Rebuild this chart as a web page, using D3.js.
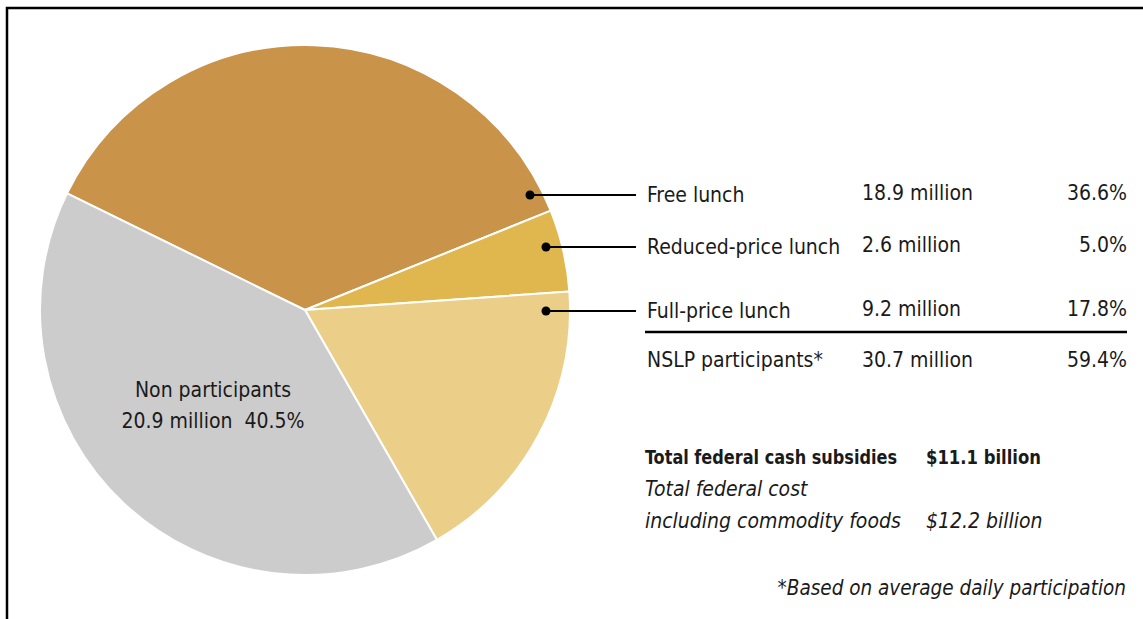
<!DOCTYPE html>
<html>
<head>
<meta charset="utf-8">
<script src="https://cdn.jsdelivr.net/npm/d3@7"></script>
<style>
  body { margin: 0; background: #fff; }
  text { font-family: "DejaVu Sans Condensed", "Liberation Sans Narrow", sans-serif; fill: #1a1a1a; }
</style>
</head>
<body>
<svg id="svg" width="1143" height="619"></svg>
<script>
// dados
const categories = ["Free lunch", "Reduced-price lunch", "Full-price lunch", "Non participants"];
const millions = [18.9, 2.6, 9.2, 20.9];
const shares = [36.6, 5.0, 17.8, 40.5];
const sliceColors = ["#c9944a", "#e0b64e", "#ebcf88", "#cccccc"];
const totalLabel = ["NSLP participants*", "30.7 million", "59.4%"];

const svg = d3.select("#svg");
const width = +svg.attr("width");
const height = +svg.attr("height");

const cx = 305, cy = 310, radius = 265;
const startAngle = -63.9 * Math.PI / 180;

// moldura
svg.append("path")
  .attr("d", `M7,${height}V8H${width}`)
  .attr("fill", "none")
  .attr("stroke", "#000")
  .attr("stroke-width", 2.5);

const pie = d3.pie()
  .sort(null)
  .value(d => d)
  .startAngle(startAngle)
  .endAngle(startAngle + 2 * Math.PI);

const arcs = pie(shares);
const arc = d3.arc().innerRadius(0).outerRadius(radius);

const g = svg.append("g").attr("transform", `translate(${cx},${cy})`);

g.selectAll("path.slice")
  .data(arcs)
  .enter()
  .append("path")
  .attr("class", "slice")
  .attr("d", arc)
  .attr("fill", (d, i) => sliceColors[i])
  .attr("stroke", "#fff")
  .attr("stroke-width", 2);

// rótulo dos não participantes
const nonLabel = g.append("text")
  .attr("x", 213 - cx)
  .attr("y", 397 - cy)
  .attr("text-anchor", "middle")
  .style("font-size", "21px");
nonLabel.append("tspan").attr("x", 213 - cx).text(categories[3]);
nonLabel.append("tspan").attr("x", 213 - cx).attr("dy", 31)
  .text(millions[3] + " million\u00a0\u00a0" + shares[3].toFixed(1) + "%");

// linhas de chamada
const rowY = [195, 247, 311];
const dotX = [530, 546, 546];
const textX = 647, millX = 862, pctX = 1127;

arcs.slice(0, 3).forEach((d, i) => {
  const y = rowY[i] - cy;
  const dx = dotX[i] - cx;
  g.append("circle").attr("cx", dx).attr("cy", y).attr("r", 4.5).attr("fill", "#000");
  g.append("line")
    .attr("x1", dx).attr("y1", y)
    .attr("x2", 636 - cx).attr("y2", y)
    .attr("stroke", "#000").attr("stroke-width", 2);
});

const rows = svg.selectAll("g.row")
  .data(arcs.slice(0, 3))
  .enter()
  .append("g")
  .attr("class", "row")
  .attr("transform", (d, i) => `translate(0,${rowY[i] + 7})`)
  .style("font-size", "21px");

rows.append("text").attr("x", textX).text((d, i) => categories[i]);
rows.append("text").attr("x", millX).attr("y", -2).text((d, i) => millions[i] + " million");
rows.append("text").attr("x", pctX).attr("y", -2).attr("text-anchor", "end").text((d, i) => shares[i].toFixed(1) + "%");

svg.append("line")
  .attr("x1", 645).attr("x2", pctX)
  .attr("y1", 332).attr("y2", 332)
  .attr("stroke", "#000").attr("stroke-width", 2.5);

const tot = svg.append("g").style("font-size", "21px");
tot.append("text").attr("x", textX).attr("y", 367).text(totalLabel[0]);
tot.append("text").attr("x", millX).attr("y", 367).text(totalLabel[1]);
tot.append("text").attr("x", pctX).attr("y", 367).attr("text-anchor", "end").text(totalLabel[2]);

// custos
const cost = svg.append("g").style("font-size", "21px");
cost.append("text").attr("x", 645).attr("y", 464)
  .style("font-weight", "bold").style("font-size", "20px")
  .attr("textLength", 252).attr("lengthAdjust", "spacingAndGlyphs")
  .text("Total federal cash subsidies");
cost.append("text").attr("x", 926).attr("y", 464)
  .style("font-weight", "bold").style("font-size", "20px")
  .attr("textLength", 115).attr("lengthAdjust", "spacingAndGlyphs")
  .text("$11.1 billion");
cost.append("text").attr("x", 645).attr("y", 496).style("font-style", "italic").text("Total federal cost");
cost.append("text").attr("x", 645).attr("y", 528).style("font-style", "italic").text("including commodity foods");
cost.append("text").attr("x", 926).attr("y", 528).style("font-style", "italic").text("$12.2 billion");

svg.append("text")
  .attr("x", 1126).attr("y", 595)
  .attr("text-anchor", "end")
  .style("font-size", "20.5px")
  .style("font-style", "italic")
  .text("*Based on average daily participation");
</script>
</body>
</html>
